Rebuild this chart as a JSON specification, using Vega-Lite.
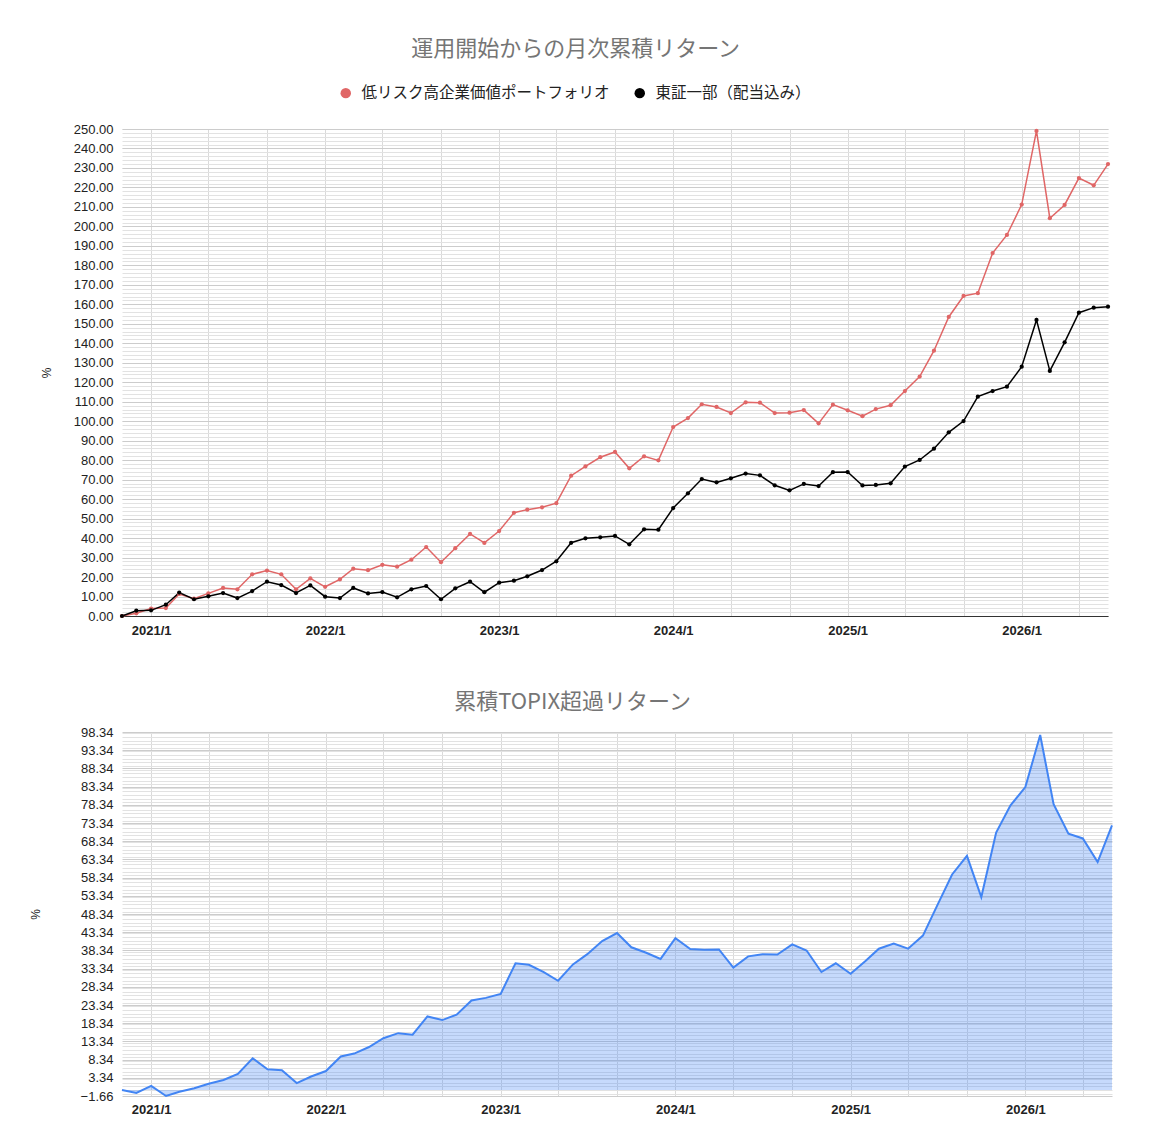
{
  "$schema": "https://vega.github.io/schema/vega-lite/v6.json",
  "background": "white",
  "padding": {"left": 29, "top": 38, "right": 20, "bottom": 10},
  "autosize": {"type": "pad"},
  "spacing": 54,
  "resolve": {"legend": {"fill": "independent", "stroke": "independent"}},
  "config": {
    "view": {"stroke": null},
    "axis": {
      "labelFont": "Liberation Sans",
      "labelFontSize": 13,
      "labelColor": "#222222",
      "ticks": false,
      "domain": false,
      "titleFont": "Liberation Sans",
      "titleFontWeight": "normal",
      "titleFontSize": 12,
      "titleColor": "#222222"
    },
    "title": {"font": "Noto Sans CJK JP", "fontSize": 22, "fontWeight": "normal", "color": "#757575", "anchor": "middle", "frame": "bounds"}
  },
  "datasets": {
    "monthly": [
      {"date": "2020/11/01", "portfolio": 0, "topix": 0, "excess": 0},
      {"date": "2020/12/01", "portfolio": 1.4, "topix": 2.7, "excess": -0.8},
      {"date": "2021/01/01", "portfolio": 3.8, "topix": 2.9, "excess": 1.1},
      {"date": "2021/02/01", "portfolio": 4.1, "topix": 5.8, "excess": -1.66},
      {"date": "2021/03/01", "portfolio": 11.3, "topix": 12.0, "excess": -0.5},
      {"date": "2021/04/01", "portfolio": 8.9, "topix": 8.6, "excess": 0.45},
      {"date": "2021/05/01", "portfolio": 11.6, "topix": 10.1, "excess": 1.7},
      {"date": "2021/06/01", "portfolio": 14.4, "topix": 11.8, "excess": 2.75},
      {"date": "2021/07/01", "portfolio": 13.7, "topix": 9.2, "excess": 4.4},
      {"date": "2021/08/01", "portfolio": 21.4, "topix": 12.8, "excess": 8.7},
      {"date": "2021/09/01", "portfolio": 23.3, "topix": 17.6, "excess": 5.7},
      {"date": "2021/10/01", "portfolio": 21.4, "topix": 15.9, "excess": 5.4},
      {"date": "2021/11/01", "portfolio": 13.7, "topix": 11.8, "excess": 1.9},
      {"date": "2021/12/01", "portfolio": 19.3, "topix": 15.7, "excess": 3.7},
      {"date": "2022/01/01", "portfolio": 15.0, "topix": 9.9, "excess": 5.2},
      {"date": "2022/02/01", "portfolio": 18.8, "topix": 9.2, "excess": 9.2},
      {"date": "2022/03/01", "portfolio": 24.3, "topix": 14.4, "excess": 10.0},
      {"date": "2022/04/01", "portfolio": 23.5, "topix": 11.6, "excess": 11.8},
      {"date": "2022/05/01", "portfolio": 26.3, "topix": 12.3, "excess": 14.2},
      {"date": "2022/06/01", "portfolio": 25.3, "topix": 9.6, "excess": 15.6},
      {"date": "2022/07/01", "portfolio": 28.9, "topix": 13.7, "excess": 15.2},
      {"date": "2022/08/01", "portfolio": 35.4, "topix": 15.4, "excess": 20.2},
      {"date": "2022/09/01", "portfolio": 27.6, "topix": 8.6, "excess": 19.2},
      {"date": "2022/10/01", "portfolio": 34.8, "topix": 14.2, "excess": 20.7},
      {"date": "2022/11/01", "portfolio": 42.1, "topix": 17.6, "excess": 24.6},
      {"date": "2022/12/01", "portfolio": 37.5, "topix": 12.2, "excess": 25.3},
      {"date": "2023/01/01", "portfolio": 43.6, "topix": 17.1, "excess": 26.4},
      {"date": "2023/02/01", "portfolio": 53.0, "topix": 18.1, "excess": 34.8},
      {"date": "2023/03/01", "portfolio": 54.6, "topix": 20.4, "excess": 34.4},
      {"date": "2023/04/01", "portfolio": 55.8, "topix": 23.6, "excess": 32.4},
      {"date": "2023/05/01", "portfolio": 57.9, "topix": 28.1, "excess": 30.0},
      {"date": "2023/06/01", "portfolio": 72.0, "topix": 37.6, "excess": 34.5},
      {"date": "2023/07/01", "portfolio": 76.8, "topix": 39.9, "excess": 37.3},
      {"date": "2023/08/01", "portfolio": 81.5, "topix": 40.4, "excess": 40.9},
      {"date": "2023/09/01", "portfolio": 84.2, "topix": 41.1, "excess": 43.1},
      {"date": "2023/10/01", "portfolio": 75.8, "topix": 36.8, "excess": 39.2},
      {"date": "2023/11/01", "portfolio": 82.0, "topix": 44.5, "excess": 37.7},
      {"date": "2023/12/01", "portfolio": 79.9, "topix": 44.3, "excess": 36.0},
      {"date": "2024/01/01", "portfolio": 97.0, "topix": 55.4, "excess": 41.7},
      {"date": "2024/02/01", "portfolio": 101.6, "topix": 63.0, "excess": 38.7},
      {"date": "2024/03/01", "portfolio": 108.7, "topix": 70.3, "excess": 38.5},
      {"date": "2024/04/01", "portfolio": 107.3, "topix": 68.6, "excess": 38.6},
      {"date": "2024/05/01", "portfolio": 104.2, "topix": 70.7, "excess": 33.6},
      {"date": "2024/06/01", "portfolio": 109.7, "topix": 73.1, "excess": 36.7},
      {"date": "2024/07/01", "portfolio": 109.5, "topix": 72.2, "excess": 37.3},
      {"date": "2024/08/01", "portfolio": 104.2, "topix": 67.1, "excess": 37.2},
      {"date": "2024/09/01", "portfolio": 104.4, "topix": 64.5, "excess": 40.0},
      {"date": "2024/10/01", "portfolio": 105.7, "topix": 67.8, "excess": 38.3},
      {"date": "2024/11/01", "portfolio": 98.9, "topix": 66.7, "excess": 32.4},
      {"date": "2024/12/01", "portfolio": 108.5, "topix": 73.8, "excess": 34.8},
      {"date": "2025/01/01", "portfolio": 105.6, "topix": 73.9, "excess": 31.9},
      {"date": "2025/02/01", "portfolio": 102.6, "topix": 67.0, "excess": 35.4},
      {"date": "2025/03/01", "portfolio": 106.2, "topix": 67.3, "excess": 38.8},
      {"date": "2025/04/01", "portfolio": 108.2, "topix": 68.1, "excess": 40.2},
      {"date": "2025/05/01", "portfolio": 115.5, "topix": 76.7, "excess": 38.8},
      {"date": "2025/06/01", "portfolio": 122.9, "topix": 80.1, "excess": 42.4},
      {"date": "2025/07/01", "portfolio": 136.2, "topix": 85.9, "excess": 50.7},
      {"date": "2025/08/01", "portfolio": 153.5, "topix": 94.3, "excess": 59.2},
      {"date": "2025/09/01", "portfolio": 164.3, "topix": 100.1, "excess": 64.3},
      {"date": "2025/10/01", "portfolio": 165.7, "topix": 112.6, "excess": 53.0},
      {"date": "2025/11/01", "portfolio": 186.3, "topix": 115.5, "excess": 70.7},
      {"date": "2025/12/01", "portfolio": 195.6, "topix": 117.7, "excess": 78.2},
      {"date": "2026/01/01", "portfolio": 211.2, "topix": 128.0, "excess": 83.2},
      {"date": "2026/02/01", "portfolio": 249.0, "topix": 152.0, "excess": 97.5},
      {"date": "2026/03/01", "portfolio": 204.2, "topix": 125.8, "excess": 78.5},
      {"date": "2026/04/01", "portfolio": 211.0, "topix": 140.5, "excess": 70.4},
      {"date": "2026/05/01", "portfolio": 224.8, "topix": 155.7, "excess": 69.1},
      {"date": "2026/06/01", "portfolio": 221.1, "topix": 158.3, "excess": 62.6},
      {"date": "2026/07/01", "portfolio": 232.0, "topix": 158.8, "excess": 72.7}
    ]
  },
  "vconcat": [
    {
      "width": 986,
      "height": 487,
      "title": {"text": "運用開始からの月次累積リターン", "offset": 24},
      "data": {"name": "monthly"},
      "transform": [{"fold": ["portfolio", "topix"], "as": ["series", "value"]}],
      "layer": [
        {
          "mark": {"type": "line", "strokeWidth": 1.5},
          "encoding": {
            "x": {
              "field": "date",
              "type": "temporal",
              "axis": {
                "orient": "bottom",
                "title": null,
                "tickCount": {"interval": "month", "step": 4},
                "labelExpr": "month(datum.value) === 0 ? timeFormat(datum.value, '%Y/%-m') : ''",
                "labelFontWeight": "bold",
                "labelOverlap": false,
                "labelFlush": false,
                "labelPadding": 8,
                "grid": true,
                "gridColor": "#dadada",
                "domain": true,
                "domainColor": "#333333",
                "domainWidth": 1
              }
            },
            "y": {
              "field": "value",
              "type": "quantitative",
              "scale": {"domain": [0, 250], "nice": false},
              "axis": {"orient": "left", "title": null, "labels": false, "ticks": false, "domain": false, "grid": true, "gridColor": "#e2e2e2", "tickCount": 125}
            },
            "stroke": {
              "field": "series",
              "type": "nominal",
              "scale": {"domain": ["topix", "portfolio"], "range": ["#000000", "#e06666"]},
              "legend": null
            }
          }
        },
        {
          "mark": {"type": "circle", "size": 18, "opacity": 1},
          "encoding": {
            "x": {"field": "date", "type": "temporal"},
            "y": {
              "field": "value",
              "type": "quantitative",
              "axis": {"orient": "left", "title": "%", "titlePadding": 20, "tickCount": 25, "format": ".2f", "grid": true, "gridColor": "#cccccc", "labelPadding": 9}
            },
            "fill": {
              "field": "series",
              "type": "nominal",
              "scale": {"domain": ["portfolio", "topix"], "range": ["#e06666", "#000000"]},
              "legend": {
                "orient": "none",
                "legendX": 216,
                "legendY": -44,
                "direction": "horizontal",
                "title": null,
                "symbolType": "circle",
                "symbolSize": 110,
                "symbolStrokeWidth": 0,
                "symbolOpacity": 1,
                "labelFont": "Noto Sans CJK JP",
                "labelFontSize": 15.5,
                "labelColor": "#222222",
                "labelOffset": 8,
                "columnPadding": 22,
                "padding": 0,
                "labelLimit": 400,
                "labelExpr": "datum.label == 'portfolio' ? '低リスク高企業価値ポートフォリオ' : '東証一部（配当込み）'"
              }
            }
          }
        }
      ],
      "resolve": {"axis": {"y": "independent"}}
    },
    {
      "width": 990,
      "height": 364,
      "title": {"text": "累積TOPIX超過リターン", "offset": 12},
      "data": {"name": "monthly"},
      "layer": [
        {
          "mark": {"type": "area", "fill": "#4285f4", "fillOpacity": 0.3},
          "encoding": {
            "x": {
              "field": "date",
              "type": "temporal",
              "axis": {
                "orient": "bottom",
                "title": null,
                "tickCount": {"interval": "month", "step": 4},
                "labelExpr": "month(datum.value) === 0 ? timeFormat(datum.value, '%Y/%-m') : ''",
                "labelFontWeight": "bold",
                "labelOverlap": false,
                "labelFlush": false,
                "labelPadding": 7,
                "grid": true,
                "gridColor": "#dadada"
              }
            },
            "y": {
              "field": "excess",
              "type": "quantitative",
              "scale": {"domain": [-1.66, 98.34], "nice": false, "zero": false},
              "axis": {"orient": "left", "title": null, "labels": false, "ticks": false, "domain": false, "grid": true, "gridColor": "#e2e2e2", "tickCount": 100}
            },
            "y2": {"datum": 0}
          }
        },
        {
          "mark": {"type": "line", "stroke": "#4285f4", "strokeWidth": 2},
          "encoding": {
            "x": {"field": "date", "type": "temporal"},
            "y": {
              "field": "excess",
              "type": "quantitative",
              "axis": {
                "orient": "left",
                "title": "%",
                "titlePadding": 38,
                "values": [-1.66, 3.34, 8.34, 13.34, 18.34, 23.34, 28.34, 33.34, 38.34, 43.34, 48.34, 53.34, 58.34, 63.34, 68.34, 73.34, 78.34, 83.34, 88.34, 93.34, 98.34],
                "format": ".2f",
                "grid": true,
                "gridColor": "#cccccc",
                "labelPadding": 9
              }
            }
          }
        }
      ],
      "resolve": {"axis": {"y": "independent"}}
    }
  ]
}
